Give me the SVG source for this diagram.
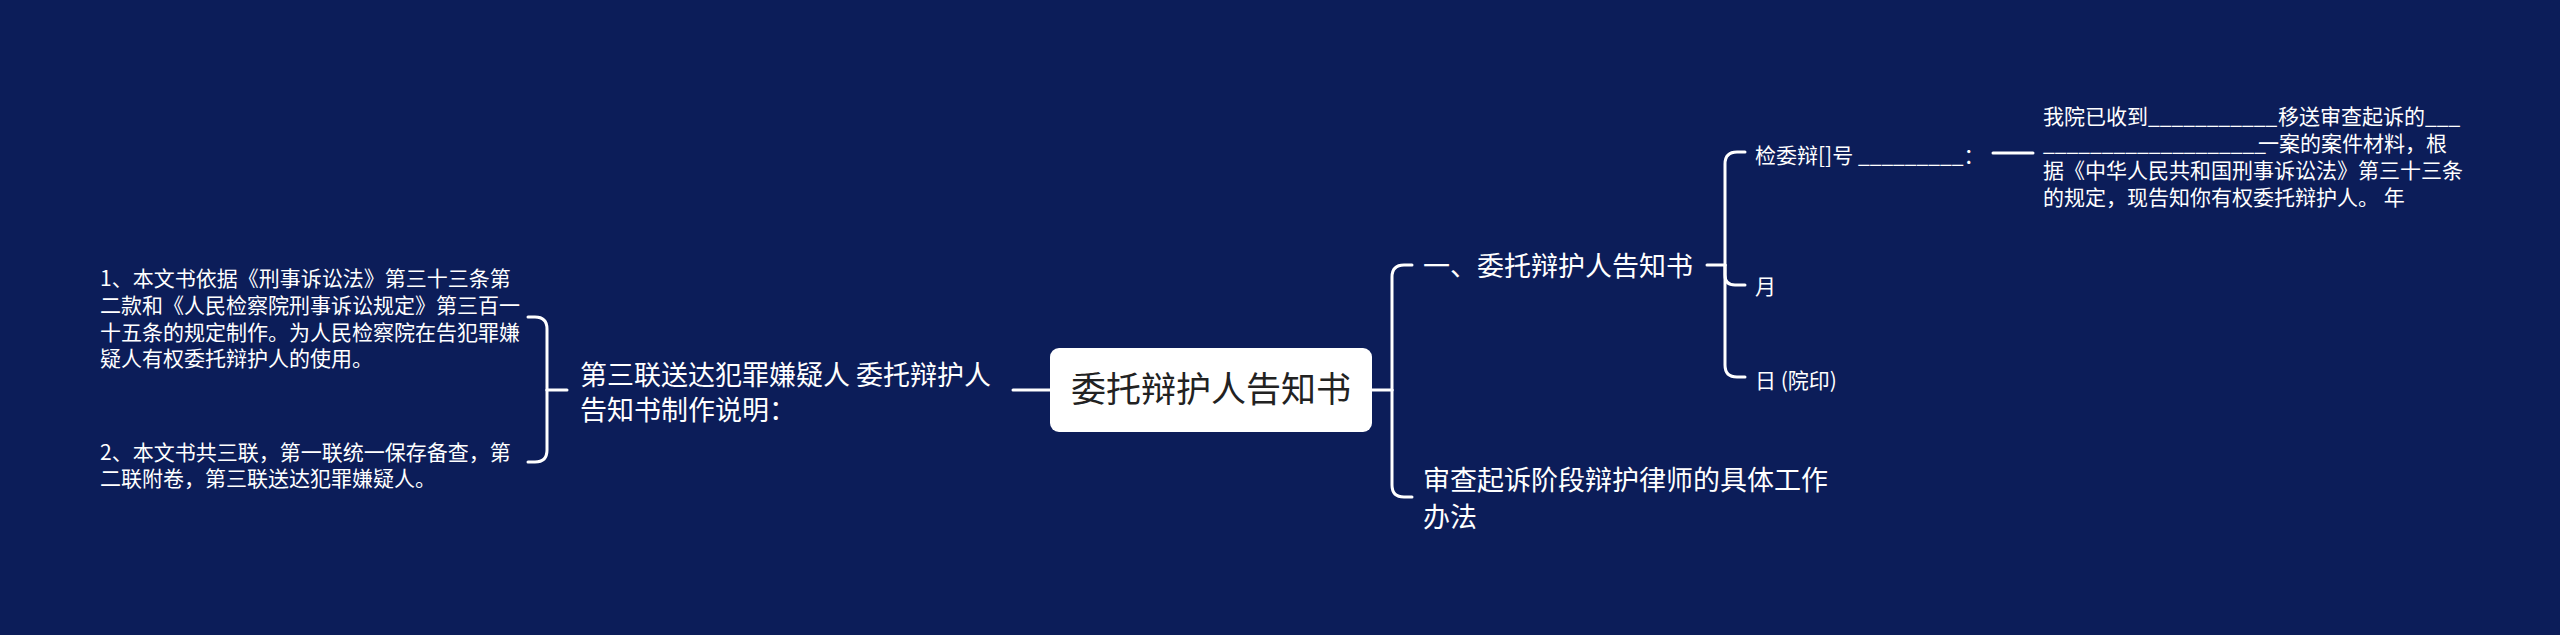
<svg xmlns="http://www.w3.org/2000/svg" width="2560" height="635" viewBox="0 0 2560 635">
<style>
.bg{fill:#0c1d59}
.ln{fill:none;stroke:#ffffff;stroke-width:3;stroke-linecap:round}
.t{font-family:"Noto Sans CJK SC","Noto Sans",sans-serif;fill:#ffffff}
.s{font-size:21px}
.m{font-size:27px}
.r{font-size:35px;fill:#222222}
</style>
<rect class="bg" x="0" y="0" width="2560" height="635"/>
<g id="connectors">
<path class="ln" d="M1372,390 H1392"/>
<path class="ln" d="M1392,390 V277 Q1392,265 1404,265 H1412"/>
<path class="ln" d="M1392,390 V485 Q1392,497 1404,497 H1412"/>
<path class="ln" d="M1050,390 H1013"/>
<path class="ln" d="M567,390 H547"/>
<path class="ln" d="M547,390 V329 Q547,317 535,317 H528"/>
<path class="ln" d="M547,390 V450 Q547,462 535,462 H528"/>
<path class="ln" d="M1707,265 H1725"/>
<path class="ln" d="M1725,265 V164 Q1725,152 1737,152 H1745"/>
<path class="ln" d="M1725,265 V275 Q1725,285 1735,285 H1745"/>
<path class="ln" d="M1725,265 V365 Q1725,377 1737,377 H1745"/>
<path class="ln" d="M1993,153 H2033"/>
</g>
<g id="root">
<rect x="1050" y="348" width="322" height="84" rx="9" fill="#ffffff"/>
<text class="t r" x="1211" y="402" text-anchor="middle">委托辩护人告知书</text>
</g>
<g id="node-mid">
<text class="t m"><tspan x="580" y="385">第三联送达犯罪嫌疑人 委托辩护人</tspan><tspan x="580" y="420">告知书制作说明：</tspan></text>
</g>
<g id="node-item1">
<text class="t s"><tspan x="100" y="286">1、本文书依据《刑事诉讼法》第三十三条第</tspan><tspan x="100" y="313">二款和《人民检察院刑事诉讼规定》第三百一</tspan><tspan x="100" y="339.5">十五条的规定制作。为人民检察院在告犯罪嫌</tspan><tspan x="100" y="366">疑人有权委托辩护人的使用。</tspan></text>
</g>
<g id="node-item2">
<text class="t s"><tspan x="100" y="460">2、本文书共三联，第一联统一保存备查，第</tspan><tspan x="100" y="486">二联附卷，第三联送达犯罪嫌疑人。</tspan></text>
</g>
<g id="node-notice">
<text class="t m" x="1423" y="276">一、委托辩护人告知书</text>
</g>
<g id="node-method">
<text class="t m"><tspan x="1423" y="490">审查起诉阶段辩护律师的具体工作</tspan><tspan x="1423" y="527">办法</tspan></text>
</g>
<g id="node-number">
<text class="t s" x="1755" y="163">检委辩[]号 _________：</text>
</g>
<g id="node-month">
<text class="t s" x="1755" y="294">月</text>
</g>
<g id="node-day">
<text class="t s" x="1755" y="388">日 (院印)</text>
</g>
<g id="node-paragraph">
<text class="t s"><tspan x="2043" y="123.5">我院已收到___________</tspan><tspan x="2278">移送审查起诉的___</tspan><tspan x="2043" y="150.5">___________________</tspan><tspan x="2258">一案的案件材料，根</tspan><tspan x="2043" y="177.5">据《中华人民共和国刑事诉讼法》第三十三条</tspan><tspan x="2043" y="204.5">的规定，现告知你有权委托辩护人。 年</tspan></text>
</g>
</svg>
